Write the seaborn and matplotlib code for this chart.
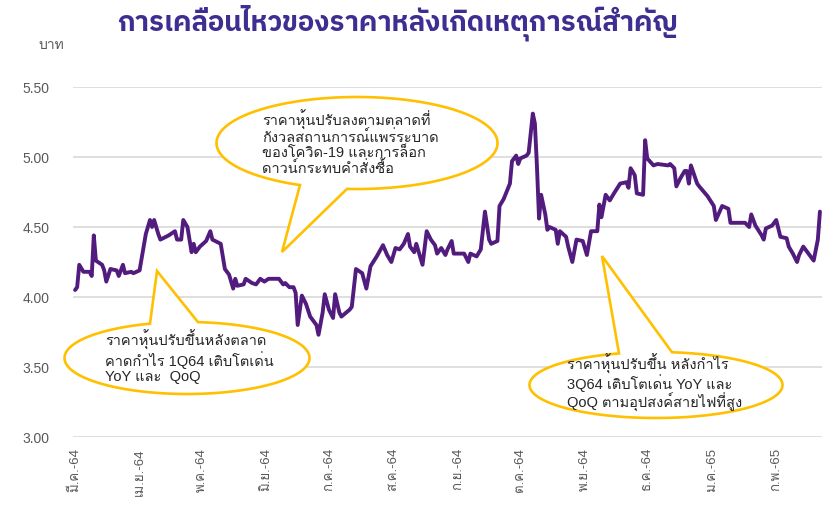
import numpy as np
import pandas as pd
import matplotlib
matplotlib.use("Agg")
import matplotlib.pyplot as plt
from matplotlib.patches import Polygon
import seaborn as sns

# -------------------------------
# Data
# -------------------------------
dates = [
    "2021-03-01", "2021-03-02", "2021-03-03", "2021-03-05", "2021-03-08", "2021-03-09",
    "2021-03-10", "2021-03-11", "2021-03-14", "2021-03-15", "2021-03-16", "2021-03-18",
    "2021-03-21", "2021-03-22", "2021-03-24", "2021-03-25", "2021-03-28", "2021-03-29",
    "2021-04-01", "2021-04-04", "2021-04-06", "2021-04-07", "2021-04-08", "2021-04-10",
    "2021-04-11", "2021-04-15", "2021-04-18", "2021-04-19", "2021-04-21", "2021-04-22",
    "2021-04-24", "2021-04-25", "2021-04-26", "2021-04-27", "2021-04-28", "2021-04-30",
    "2021-05-03", "2021-05-05", "2021-05-06", "2021-05-10", "2021-05-12", "2021-05-14",
    "2021-05-16", "2021-05-17", "2021-05-18", "2021-05-21", "2021-05-22", "2021-05-25",
    "2021-05-27", "2021-05-29", "2021-05-31", "2021-06-02", "2021-06-07", "2021-06-09",
    "2021-06-10", "2021-06-12", "2021-06-14", "2021-06-15", "2021-06-16", "2021-06-18",
    "2021-06-20", "2021-06-22", "2021-06-25", "2021-06-26", "2021-06-28", "2021-06-29",
    "2021-07-01", "2021-07-03", "2021-07-04", "2021-07-06", "2021-07-07", "2021-07-11",
    "2021-07-12", "2021-07-14", "2021-07-17", "2021-07-19", "2021-07-21", "2021-07-24",
    "2021-07-27", "2021-07-29", "2021-07-31", "2021-08-02", "2021-08-04", "2021-08-06",
    "2021-08-08", "2021-08-09", "2021-08-11", "2021-08-12", "2021-08-15", "2021-08-17",
    "2021-08-19", "2021-08-21", "2021-08-22", "2021-08-24", "2021-08-26", "2021-08-27",
    "2021-08-29", "2021-08-30", "2021-09-02", "2021-09-04", "2021-09-06", "2021-09-07",
    "2021-09-10", "2021-09-12", "2021-09-14", "2021-09-16", "2021-09-17", "2021-09-20",
    "2021-09-21", "2021-09-23", "2021-09-26", "2021-09-27", "2021-09-29", "2021-09-30",
    "2021-10-01", "2021-10-04", "2021-10-05", "2021-10-07", "2021-10-08", "2021-10-09",
    "2021-10-10", "2021-10-11", "2021-10-13", "2021-10-14", "2021-10-15", "2021-10-18",
    "2021-10-19", "2021-10-20", "2021-10-23", "2021-10-24", "2021-10-26", "2021-10-28",
    "2021-10-31", "2021-11-02", "2021-11-04", "2021-11-07", "2021-11-08", "2021-11-09",
    "2021-11-11", "2021-11-13", "2021-11-15", "2021-11-18", "2021-11-21", "2021-11-22",
    "2021-11-23", "2021-11-25", "2021-11-26", "2021-11-29", "2021-11-30", "2021-12-01",
    "2021-12-04", "2021-12-06", "2021-12-11", "2021-12-12", "2021-12-14", "2021-12-15",
    "2021-12-17", "2021-12-19", "2021-12-20", "2021-12-21", "2021-12-22", "2021-12-25",
    "2021-12-26", "2021-12-30", "2022-01-02", "2022-01-03", "2022-01-06", "2022-01-09",
    "2022-01-10", "2022-01-17", "2022-01-19", "2022-01-20", "2022-01-22", "2022-01-25",
    "2022-01-26", "2022-01-27", "2022-01-30", "2022-02-01", "2022-02-03", "2022-02-06",
    "2022-02-07", "2022-02-09", "2022-02-11", "2022-02-12", "2022-02-14", "2022-02-17",
    "2022-02-19", "2022-02-21", "2022-02-22",
]
prices = [
    4.05, 4.07, 4.23, 4.18, 4.18, 4.15,
    4.44, 4.26, 4.23, 4.19, 4.11, 4.20,
    4.19, 4.15, 4.23, 4.17, 4.18, 4.17,
    4.19, 4.45, 4.55, 4.50, 4.55, 4.45,
    4.41, 4.44, 4.47, 4.41, 4.41, 4.55,
    4.50, 4.41, 4.32, 4.38, 4.32, 4.36,
    4.40, 4.47, 4.41, 4.38, 4.20, 4.16,
    4.06, 4.13, 4.08, 4.09, 4.13, 4.10,
    4.09, 4.13, 4.11, 4.13, 4.13, 4.09,
    4.10, 4.07, 4.07, 4.03, 3.80, 4.01,
    3.95, 3.86, 3.80, 3.73, 3.89, 4.02,
    3.91, 3.85, 4.02, 3.89, 3.86, 3.91,
    3.93, 4.20, 4.17, 4.06, 4.22, 4.29,
    4.37, 4.30, 4.25, 4.35, 4.34, 4.38,
    4.45, 4.36, 4.32, 4.38, 4.23, 4.47,
    4.41, 4.37, 4.31, 4.35, 4.30, 4.34,
    4.40, 4.31, 4.31, 4.31, 4.25, 4.31,
    4.29, 4.34, 4.61, 4.41, 4.38, 4.40,
    4.65, 4.70, 4.81, 4.97, 5.01, 4.95,
    4.99, 5.01, 5.03, 5.31, 5.24, 4.93,
    4.56, 4.73, 4.59, 4.48, 4.50, 4.48,
    4.38, 4.47, 4.43, 4.36, 4.25, 4.41,
    4.40, 4.30, 4.47, 4.47, 4.66, 4.57,
    4.73, 4.69, 4.74, 4.81, 4.82, 4.78,
    4.92, 4.87, 4.74, 4.73, 5.12, 4.99,
    4.94, 4.95, 4.94, 4.95, 4.92, 4.79,
    4.85, 4.90, 4.90, 4.81, 4.94, 4.81,
    4.79, 4.72, 4.65, 4.55, 4.65, 4.63,
    4.53, 4.53, 4.50, 4.59, 4.51, 4.44,
    4.41, 4.49, 4.51, 4.55, 4.43, 4.42,
    4.36, 4.31, 4.25, 4.30, 4.36, 4.30,
    4.26, 4.41, 4.61,
]

month_starts = ["2021-03-01", "2021-04-01", "2021-05-01", "2021-06-01", "2021-07-01",
                "2021-08-01", "2021-09-01", "2021-10-01", "2021-11-01", "2021-12-01",
                "2022-01-01", "2022-02-01"]
month_labels = ["มี.ค.-64", "เม.ย.-64", "พ.ค.-64", "มิ.ย.-64", "ก.ค.-64", "ส.ค.-64",
                "ก.ย.-64", "ต.ค.-64", "พ.ย.-64", "ธ.ค.-64", "ม.ค.-65", "ก.พ.-65"]

title = "การเคลื่อนไหวของราคาหลังเกิดเหตุการณ์สำคัญ"
unit_label = "บาท"
note_1 = "ราคาหุ้นปรับขึ้นหลังตลาด\nคาดกำไร 1Q64 เติบโตเด่น\nYoY และ  QoQ"
note_2 = "ราคาหุ้นปรับลงตามตลาดที่\nกังวลสถานการณ์แพร่ระบาด\nของโควิด-19 และการล็อก\nดาวน์กระทบคำสั่งซื้อ"
note_3 = "ราคาหุ้นปรับขึ้น หลังกำไร\n3Q64 เติบโตเด่น YoY และ\nQoQ ตามอุปสงค์สายไฟที่สูง"

df = pd.DataFrame({"date": pd.to_datetime(dates), "price": prices})

# -------------------------------
# Figure
# -------------------------------
sns.set_theme(style="white")
plt.rcParams["font.family"] = ["Liberation Sans", "Loma", "DejaVu Sans"]

W, H = 825, 508
fig = plt.figure(figsize=(W / 100, H / 100), dpi=100)
ax = fig.add_axes([73 / W, 1 - 437 / H, (822 - 73) / W, (437 - 87) / H])

grey = "#595959"
sns.lineplot(data=df, x="date", y="price", ax=ax, color="#521C7E", linewidth=2.8,
             solid_joinstyle="round", zorder=3)

ax.set_ylim(3.0, 5.5)
ax.set_yticks([3.0, 3.5, 4.0, 4.5, 5.0, 5.5])
ax.yaxis.set_major_formatter(matplotlib.ticker.FormatStrFormatter("%.2f"))
ax.set_xlim(pd.Timestamp("2021-02-28"), pd.Timestamp("2022-02-23"))
ax.set_xticks(pd.to_datetime(month_starts))
ax.set_xticklabels(month_labels, rotation=90, va="top", ha="center")
ax.grid(axis="y", color="#D9D9D9", linewidth=1.2)
ax.grid(axis="x", visible=False)
for s in ax.spines.values():
    s.set_visible(False)
ax.tick_params(axis="y", length=0, pad=17, labelsize=10, labelcolor=grey)
ax.tick_params(axis="x", length=0, pad=8, labelsize=9.5, labelcolor=grey)
ax.set_xlabel("")
ax.set_ylabel("")

fig.text(38 / W, 1 - 45 / H, unit_label, fontsize=10, color=grey, va="center", ha="left")
fig.text(398 / W, 1 - 23 / H, title, fontsize=19.8, color="#3F2E92", fontweight="bold",
         family=["IBM Plex Sans Thai", "Loma"], ha="center", va="center")


# -------------------------------
# Oval callouts (pixel layout -> figure fraction)
# -------------------------------
def callout(cx, cy, w, h, bx0, bx1, tip, top=True):
    a, b = w / 2, h / 2
    t0 = np.arccos(np.clip((bx0 - cx) / a, -1, 1))
    t1 = np.arccos(np.clip((bx1 - cx) / a, -1, 1))
    if top:
        ts = np.linspace(-t1, -t0 + 2 * np.pi, 300)
    else:
        ts = np.linspace(t0, t1 + 2 * np.pi, 300)
    xs = cx + a * np.cos(ts)
    ys = cy + b * np.sin(ts)
    pts = np.column_stack([np.append(xs, tip[0]) / W, 1 - np.append(ys, tip[1]) / H])
    poly = Polygon(pts, closed=True, facecolor="white", edgecolor="#FFC000",
                   linewidth=1.9, transform=fig.transFigure, zorder=5, joinstyle="miter")
    fig.add_artist(poly)


callout(187, 358, 245, 72, 150, 198, (157, 271), top=True)
callout(357, 143, 281, 92, 300, 347, (282, 252), top=False)
callout(656, 385, 253, 66, 619, 672, (602, 256), top=True)

txt = dict(fontsize=10.5, color="#262626", ha="left", va="center", linespacing=1.05, zorder=6)
fig.text(105 / W, 1 - 357 / H, note_1, **txt)
fig.text(262 / W, 1 - 143 / H, note_2, **txt)
fig.text(567 / W, 1 - 383 / H, note_3, **txt)

plt.savefig("out.png", dpi=100)
plt.close()
